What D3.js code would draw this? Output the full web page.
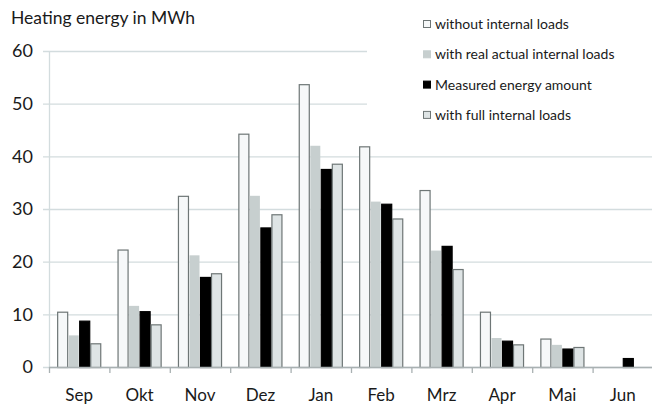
<!DOCTYPE html>
<html>
<head>
<meta charset="utf-8">
<script src="https://cdn.jsdelivr.net/npm/d3@7/dist/d3.min.js"></script>
<style>
  body { margin: 0; background: #fff; }
  svg { display: block; font-family: Lato, "Open Sans", sans-serif; }
</style>
</head>
<body>
<div id="chart"></div>
<script>
var months = ["Sep", "Okt", "Nov", "Dez", "Jan", "Feb", "Mrz", "Apr", "Mai", "Jun"];
var seriesNames = ["without internal loads", "with real actual internal loads", "Measured energy amount", "with full internal loads"];
var withoutLoads = [10.5, 22.3, 32.5, 44.3, 53.7, 41.9, 33.6, 10.5, 5.4, 0];
var realLoads = [6.1, 11.7, 21.3, 32.6, 42.1, 31.5, 22.2, 5.6, 4.3, 0];
var measured = [8.8, 10.6, 17.1, 26.5, 37.6, 31.0, 23.0, 5.0, 3.5, 1.7];
var fullLoads = [4.5, 8.1, 17.8, 29.0, 38.6, 28.2, 18.6, 4.3, 3.8, 0];
var yTicks = [0, 10, 20, 30, 40, 50, 60];

var cfg = {
  w: 652,
  h: 407,
  left: 49,
  right: 653,
  top: 51,
  bottom: 367,
  fills: ["#f6f8f9", "#c7cfcf", "#000000", "#dee4e5"],
  strokes: ["#6e7676", "none", "#000000", "#6e7676"],
  grid: "#d3dcde"
};

var values = [withoutLoads, realLoads, measured, fullLoads];

var svg = d3.select("#chart").append("svg")
  .attr("width", cfg.w)
  .attr("height", cfg.h);

var x0 = d3.scaleBand()
  .domain(months)
  .range([cfg.left, cfg.right])
  .paddingInner(0.27)
  .paddingOuter(0.135);

var x1 = d3.scaleBand()
  .domain(d3.range(seriesNames.length))
  .range([0, x0.bandwidth()]);

var y = d3.scaleLinear()
  .domain([0, 60])
  .range([cfg.bottom, cfg.top]);

// gridlines
svg.append("g").selectAll("line")
  .data(yTicks)
  .enter()
  .append("line")
  .attr("x1", cfg.left - 6)
  .attr("x2", cfg.w)
  .attr("y1", function (d) { return y(d) + 0.5; })
  .attr("y2", function (d) { return y(d) + 0.5; })
  .style("stroke", cfg.grid)
  .style("stroke-width", "1.3px");

// left axis line
svg.append("line")
  .attr("x1", cfg.left + 0.5)
  .attr("x2", cfg.left + 0.5)
  .attr("y1", cfg.top)
  .attr("y2", cfg.bottom)
  .style("stroke", cfg.grid)
  .style("stroke-width", "1.3px");

// y labels
svg.append("g").selectAll("text")
  .data(yTicks)
  .enter()
  .append("text")
  .attr("x", 33)
  .attr("y", function (d) { return y(d); })
  .attr("dy", "0.36em")
  .attr("text-anchor", "end")
  .style("font-size", "18px")
  .style("fill", "#1a1a1a")
  .text(function (d) { return d; });

// bars
var groups = svg.append("g").selectAll("g")
  .data(months)
  .enter()
  .append("g")
  .attr("transform", function (d) { return "translate(" + x0(d) + ",0)"; });

groups.selectAll("rect")
  .data(function (m, i) {
    return values.map(function (s, k) { return { k: k, v: s[i] }; })
      .filter(function (o) { return o.v > 0; });
  })
  .enter()
  .append("rect")
  .attr("x", function (d) { return x1(d.k) + 0.5; })
  .attr("y", function (d) { return y(d.v) + 0.5; })
  .attr("width", x1.bandwidth() - 1)
  .attr("height", function (d) { return y(0) - y(d.v); })
  .style("fill", function (d) { return cfg.fills[d.k]; })
  .style("stroke", function (d) { return cfg.strokes[d.k]; })
  .style("stroke-width", "1.2px");

// x axis
var step = x0.step();
svg.append("line")
  .attr("x1", cfg.left)
  .attr("x2", cfg.right)
  .attr("y1", cfg.bottom + 0.5)
  .attr("y2", cfg.bottom + 0.5)
  .style("stroke", "#a9b1b2")
  .style("stroke-width", "1.5px");

svg.append("g").selectAll("line")
  .data(d3.range(months.length + 1))
  .enter()
  .append("line")
  .attr("x1", function (i) { return cfg.left + i * step + 0.5; })
  .attr("x2", function (i) { return cfg.left + i * step + 0.5; })
  .attr("y1", cfg.bottom)
  .attr("y2", cfg.bottom + 6)
  .style("stroke", "#a9b1b2")
  .style("stroke-width", "1.3px");

svg.append("g").selectAll("text")
  .data(months)
  .enter()
  .append("text")
  .attr("x", function (d) { return x0(d) + x0.bandwidth() / 2; })
  .attr("y", 401)
  .attr("text-anchor", "middle")
  .style("font-size", "17px")
  .style("fill", "#1a1a1a")
  .text(function (d) { return d; });

// title
svg.append("text")
  .attr("x", 11)
  .attr("y", 24)
  .style("font-size", "17.5px")
  .style("fill", "#1a1a1a")
  .text("Heating energy in MWh");

// legend
var legend = svg.append("g");
legend.append("rect")
  .attr("x", 367)
  .attr("y", 0)
  .attr("width", cfg.w - 367)
  .attr("height", 132)
  .style("fill", "#fff");

var items = legend.selectAll(".item")
  .data(seriesNames)
  .enter()
  .append("g")
  .attr("class", "item")
  .attr("transform", function (d, i) { return "translate(423," + (24 + i * 30.3) + ")"; });

items.append("rect")
  .attr("x", 0.5)
  .attr("y", -3.5)
  .attr("width", 7)
  .attr("height", 7)
  .style("fill", function (d, i) { return cfg.fills[i]; })
  .style("stroke", function (d, i) { return i === 1 ? cfg.fills[1] : cfg.strokes[i]; })
  .style("stroke-width", "1px");

items.append("text")
  .attr("x", 12)
  .attr("y", 0)
  .attr("dy", "0.36em")
  .style("font-size", "14px")
  .style("fill", "#1a1a1a")
  .text(function (d) { return d; });
</script>
</body>
</html>
